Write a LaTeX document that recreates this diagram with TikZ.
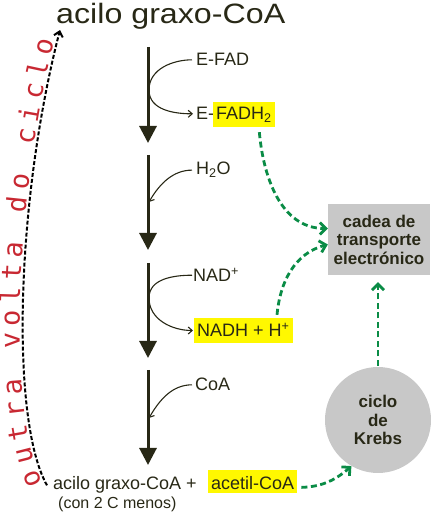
\documentclass[tikz,border=0pt]{standalone}
\usepackage{fontspec}
\setmainfont{Liberation Sans}
\newfontfamily\monofnt{DejaVu Sans Mono}
\usetikzlibrary{arrows.meta,decorations.text}
\definecolor{tinta}{RGB}{40,40,22}
\definecolor{amarelo}{RGB}{255,248,0}
\definecolor{cinza}{RGB}{200,200,200}
\definecolor{verdeosc}{RGB}{10,140,70}
\definecolor{rubi}{RGB}{200,40,50}

\begin{document}
\begin{tikzpicture}[x=1pt, y=1pt,
    lbl/.style={anchor=base west, inner sep=0pt, text=tinta, font=\fontsize{18}{21}\selectfont},
    hl/.style={lbl, fill=amarelo, inner xsep=3pt, inner ysep=2pt},
    paso/.style={draw=tinta, line width=3pt, -{Triangle[length=17pt,width=17pt]}},
    lateral/.style={draw=tinta, line width=1.1pt, -{Straight Barb[length=4pt,width=7pt]}},
    verde/.style={draw=verdeosc, line width=2.8pt, dash pattern=on 6pt off 3.5pt, -{Straight Barb[length=6pt,width=12pt]}},
    volta/.style={draw=black, line width=2pt, dash pattern=on 4pt off 2pt, -{Straight Barb[length=5pt,width=9pt]}},
    caixa/.style={fill=cinza, text=tinta, font=\bfseries\fontsize{17}{18.5}\selectfont, align=center}]

    \useasboundingbox (0,0) rectangle (431,512);

    % substrato e produtos
    \node[lbl, font=\fontsize{28}{30}\selectfont, xscale=1.15] (titulo) at (56,488) {acilo graxo-CoA};
    \node[lbl] (acilob) at (53,22) {acilo graxo-CoA +};
    \node[hl, text height=18pt, text depth=1pt] (acetil) at (208,22) {acetil-CoA};
    \node[lbl, font=\fontsize{16}{18}\selectfont] (menos) at (58,4) {(con 2 C menos)};

    % pasos da beta-oxidacion
    \coordinate (p1) at (148,465); \coordinate (q1) at (148,369);
    \coordinate (p2) at (148,357); \coordinate (q2) at (148,262);
    \coordinate (p3) at (148,249); \coordinate (q3) at (148,154);
    \coordinate (p4) at (148,142); \coordinate (q4) at (148,47);
    \draw[paso] (p1) -- (q1); \draw[paso] (p2) -- (q2);
    \draw[paso] (p3) -- (q3); \draw[paso] (p4) -- (q4);

    \node[lbl] (efad) at (196,446) {E-FAD};
    \node[lbl] (efadh) at (196,392) {E-};
    \node[hl, text height=16pt, text depth=5pt] (fadh) at (213,392) {FADH\textsubscript{2}};
    \node[lbl] (h2o) at (196,337) {H\textsubscript{2}O};
    \node[lbl] (nad) at (193,230) {NAD\textsuperscript{+}};
    \node[hl, text height=17pt, text depth=4pt] (nadh) at (194,175) {NADH + H\textsuperscript{+}};
    \node[lbl] (coa) at (195,121) {CoA};

    \coordinate (h2oend) at (149,310);
    \coordinate (coaend) at (149,94);
    \draw[lateral, shorten <=4pt, shorten >=3pt] (efad.west) to[out=180,in=90] (149,422) to[out=-90,in=180] (efadh.west);
    \draw[lateral, shorten <=4pt] (h2o.west) to[out=180,in=60] (h2oend);
    \draw[lateral, shorten <=1pt, shorten >=1pt] (nad.west) to[out=180,in=90] (149,214) to[out=-90,in=180] (nadh.west);
    \draw[lateral, shorten <=3pt] (coa.west) to[out=180,in=60] (coaend);

    % cadea e ciclo de Krebs
    \node[caixa, minimum width=102pt, minimum height=71pt] (cadea) at (379,272.5) {cadea de\\transporte\\electrónico};
    \node[caixa, circle, minimum size=106pt, inner sep=0pt] (krebs) at (378,92) {ciclo\\de\\Krebs};

    \draw[verde, shorten <=5pt] ([xshift=-16pt]fadh.south east) to[out=-85,in=180] ([yshift=11pt]cadea.west);
    \draw[verde, shorten <=3pt] ([xshift=-16pt]nadh.north east) to[out=85,in=195] ([yshift=-5pt]cadea.west);
    \draw[verde, shorten <=1pt, shorten >=7pt] (krebs.north) -- (krebs.north |- cadea.south);
    \draw[verde, shorten <=4pt] ([yshift=-6pt]acetil.east) to[bend right=20] (krebs.240);

    % outra volta
    \draw[volta] ([xshift=-6pt]acilob.west) .. controls (10,92) and (16,312) .. ([xshift=4pt]titulo.south west);
    \path[decorate, decoration={text along path, text color=rubi,
        text={|\monofnt\fontsize{27}{27}\selectfont|outra volta do ciclo},
        text align={fit to path, left indent=4pt, right indent=12pt}, raise=3pt}]
        ([xshift=-6pt]acilob.west) .. controls (10,92) and (16,312) .. ([xshift=4pt]titulo.south west);
\end{tikzpicture}
\end{document}
